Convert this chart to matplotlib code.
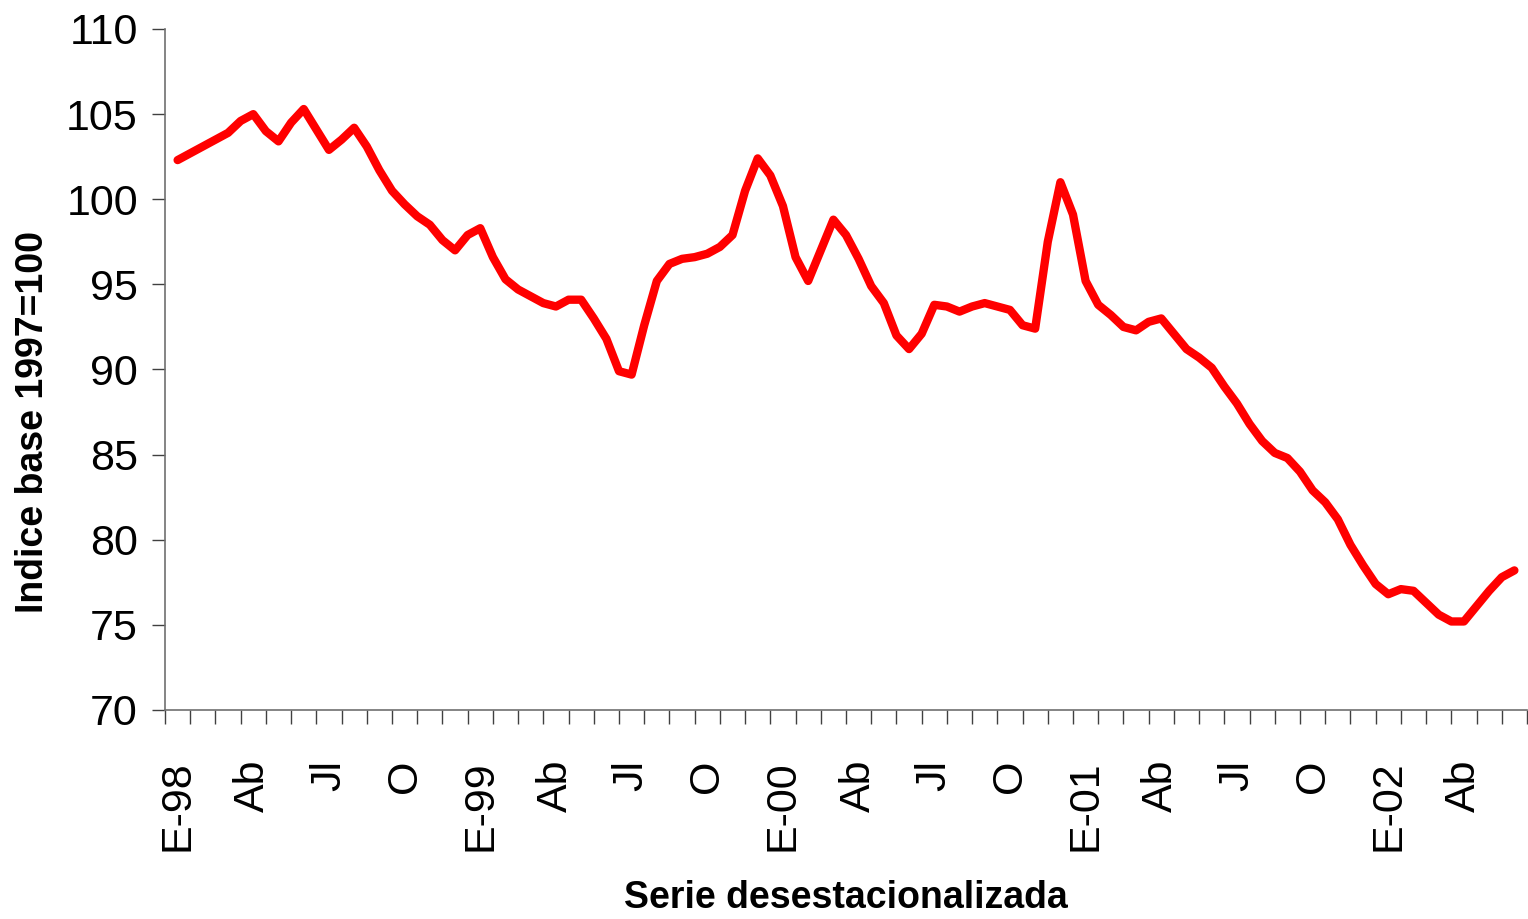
import numpy as np
import matplotlib
matplotlib.use("Agg")
import matplotlib.pyplot as plt

# Fortnightly seasonally-adjusted index (base 1997=100), Jan-98 .. Jun-02
values = [
    102.3, 102.7, 103.1, 103.5, 103.9, 104.6, 105.0, 104.0, 103.4, 104.5,
    105.3, 104.1, 102.9, 103.5, 104.2, 103.1, 101.7, 100.5, 99.7, 99.0,
    98.5, 97.6, 97.0, 97.9, 98.3, 96.6, 95.3, 94.7, 94.3, 93.9,
    93.7, 94.1, 94.1, 93.0, 91.8, 89.9, 89.7, 92.6, 95.2, 96.2,
    96.5, 96.6, 96.8, 97.2, 97.9, 100.5, 102.4, 101.4, 99.6, 96.6,
    95.2, 97.0, 98.8, 97.9, 96.5, 94.9, 93.9, 92.0, 91.2, 92.1,
    93.8, 93.7, 93.4, 93.7, 93.9, 93.7, 93.5, 92.6, 92.4, 97.5,
    101.0, 99.1, 95.2, 93.8, 93.2, 92.5, 92.3, 92.8, 93.0, 92.1,
    91.2, 90.7, 90.1, 89.0, 88.0, 86.8, 85.8, 85.1, 84.8, 84.0,
    82.9, 82.2, 81.2, 79.7, 78.5, 77.4, 76.8, 77.1, 77.0, 76.3,
    75.6, 75.2, 75.2, 76.1, 77.0, 77.8, 78.2,
]
n_months = 54
month_labels = ["E-98", "Ab", "Jl", "O", "E-99", "Ab", "Jl", "O",
                "E-00", "Ab", "Jl", "O", "E-01", "Ab", "Jl", "O",
                "E-02", "Ab"]
y_ticks = [70, 75, 80, 85, 90, 95, 100, 105, 110]
y_label = "Indice base 1997=100"
x_label = "Serie desestacionalizada"

plt.rcParams["font.family"] = ["Liberation Sans", "DejaVu Sans"]

W, H = 1528, 919
fig = plt.figure(figsize=(W / 100, H / 100), dpi=100)
ax = fig.add_axes([165 / W, 1 - 710 / H, (1527 - 165) / W, (710 - 29) / H])

x = np.arange(len(values)) / 2.0
ax.plot(x, values, color="#ff0000", lw=6,
        solid_capstyle="round", solid_joinstyle="round")

ax.set_xlim(-0.5, n_months - 0.5)
ax.set_ylim(min(y_ticks), max(y_ticks))
ax.set_yticks(y_ticks)
ax.set_yticklabels([str(v) for v in y_ticks], fontsize=31)

ax.set_xticks(np.arange(-0.5, n_months, 1.0))
ax.set_xticklabels([])
ax.set_xticks(np.arange(0, 3 * len(month_labels), 3), minor=True)
ax.set_xticklabels(month_labels, minor=True, rotation=90, fontsize=31,
                   va="top", ha="center")

ax.tick_params(axis="x", which="major", direction="out", length=10,
               width=1.0, color="#404040")
ax.tick_params(axis="x", which="minor", length=0, pad=36)
ax.tick_params(axis="y", direction="out", length=9.5, width=1.0,
               color="#404040", pad=10)

for s in ("top", "right"):
    ax.spines[s].set_visible(False)
for s in ("left", "bottom"):
    ax.spines[s].set_color("#707070")
    ax.spines[s].set_linewidth(1.2)

ax.set_ylabel(y_label, fontsize=27, fontweight="bold", va="center")
ax.yaxis.set_label_coords(-0.097, 0.423)
ax.set_xlabel(x_label, fontsize=27, fontweight="bold", va="center")
ax.xaxis.set_label_coords(0.5, -0.276)

fig.savefig("out.png", dpi=100, facecolor="white")
